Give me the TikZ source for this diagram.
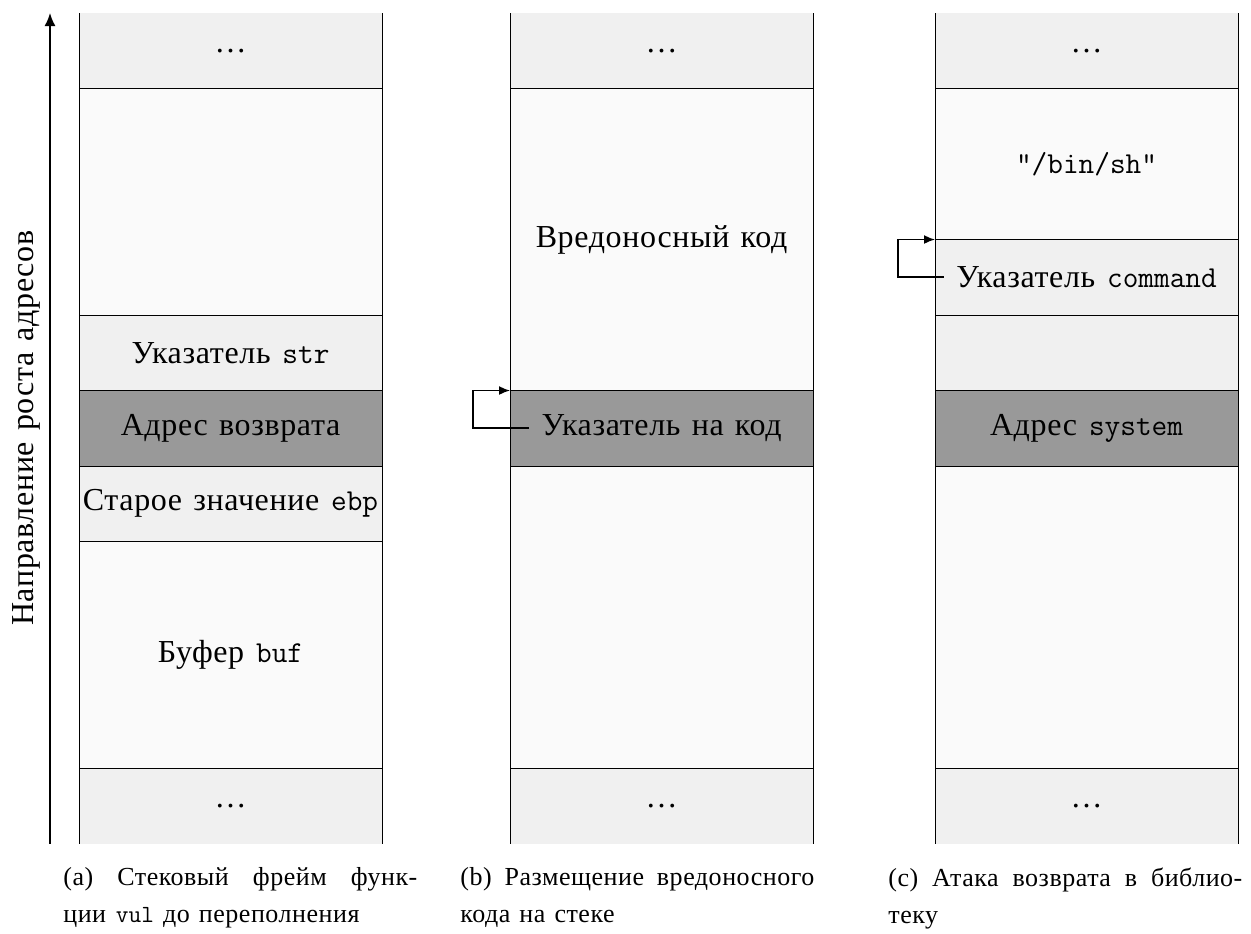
\documentclass[tikz,border=0pt]{standalone}
\usepackage{fontspec}
\setmainfont[LetterSpace=2,WordSpace=1.3]{Liberation Serif}
\setmonofont[Scale=0.95]{Latin Modern Mono}
\newfontfamily\capfont[LetterSpace=2,WordSpace=1.3]{Liberation Serif}
\usetikzlibrary{positioning,arrows.meta}
\newcommand{\rowh}{37.75pt}

\begin{document}
\begin{tikzpicture}[
  x=0.5pt, y=-0.5pt,
  font=\fontsize{16}{20}\selectfont,
  cell/.style={minimum width=151.5pt,minimum height=\rowh,inner sep=0pt,outer sep=0pt,fill=black!2},
  lite/.style={cell,fill=black!6},
  dark/.style={cell,fill=black!40},
  txt/.style={inner sep=6pt},
  ptr/.style={thick,-{Latex[length=5.5pt,width=4.5pt]}},
  subcap/.style={anchor=north west,inner sep=0pt,text width=177pt,align=justify,
    font=\capfont\fontsize{13}{18.5}\selectfont},
  node distance=0pt,
]
  \useasboundingbox (0,0) rectangle (1251,933);

  % (a) frame before the overflow
  \node[lite,anchor=north] (a1) at (230.5,13) {\ldots};
  \node[cell,minimum height=3*\rowh,below=of a1] (a2) {};
  \node[lite,below=of a2] (a3) {Указатель \texttt{str}};
  \node[dark,below=of a3] (a4) {Адрес возврата};
  \node[lite,below=of a4] (a5) {Старое значение \texttt{ebp}};
  \node[cell,minimum height=3*\rowh,below=of a5] (a6) {Буфер \texttt{buf}};
  \node[lite,below=of a6] (a7) {\ldots};

  % (b) injected code
  \node[lite,anchor=north] (b1) at (661.5,13) {\ldots};
  \node[cell,minimum height=4*\rowh,below=of b1] (b2) {Вредоносный код};
  \node[dark,below=of b2] (b3) {};
  \node[txt] (b3t) at (b3) {Указатель на код};
  \node[cell,minimum height=4*\rowh,below=of b3] (b4) {};
  \node[lite,below=of b4] (b5) {\ldots};

  % (c) return-to-libc
  \node[lite,anchor=north] (c1) at (1086.5,13) {\ldots};
  \node[cell,minimum height=2*\rowh,below=of c1] (c2) {\texttt{"/bin/sh"}};
  \node[lite,below=of c2] (c3) {};
  \node[txt] (c3t) at (c3) {Указатель \texttt{command}};
  \node[lite,below=of c3] (c4) {};
  \node[dark,below=of c4] (c5) {Адрес \texttt{system}};
  \node[cell,minimum height=4*\rowh,below=of c5] (c6) {};
  \node[lite,below=of c6] (c7) {\ldots};

  \foreach \c/\n in {a/6,b/4,c/6}
    \foreach \i in {1,...,\n}
      \draw (\c\i.south west) -- (\c\i.south east);
  \foreach \c/\n in {a/7,b/5,c/7}
    \draw (\c1.north west) -- (\c\n.south west) (\c1.north east) -- (\c\n.south east);

  \draw[ptr] (b3t.west) -| ([xshift=-18.5pt]b2.south west) -- (b2.south west);
  \draw[ptr] (c3t.west) -| ([xshift=-18.5pt]c2.south west) -- (c2.south west);

  % address growth
  \coordinate (lo) at ([xshift=-14.5pt]a7.south west);
  \coordinate (hi) at ([xshift=-14.5pt]a1.north west);
  \draw[thick,-{Latex[length=6.5pt,width=5.5pt]}] (lo) -- (hi)
    node[midway,sloped,above=1pt] {Направление роста адресов};

  \node[subcap] (capa) at (63,867) {(a) Стековый фрейм функ-\linebreak ции \texttt{vul} до переполнения};
  \node[subcap] (capb) at (460,867) {(b) Размещение вредоносного\linebreak кода на стеке};
  \node[subcap] (capc) at (888,867) {(c) Атака возврата в библио-\linebreak теку};
\end{tikzpicture}
\end{document}
